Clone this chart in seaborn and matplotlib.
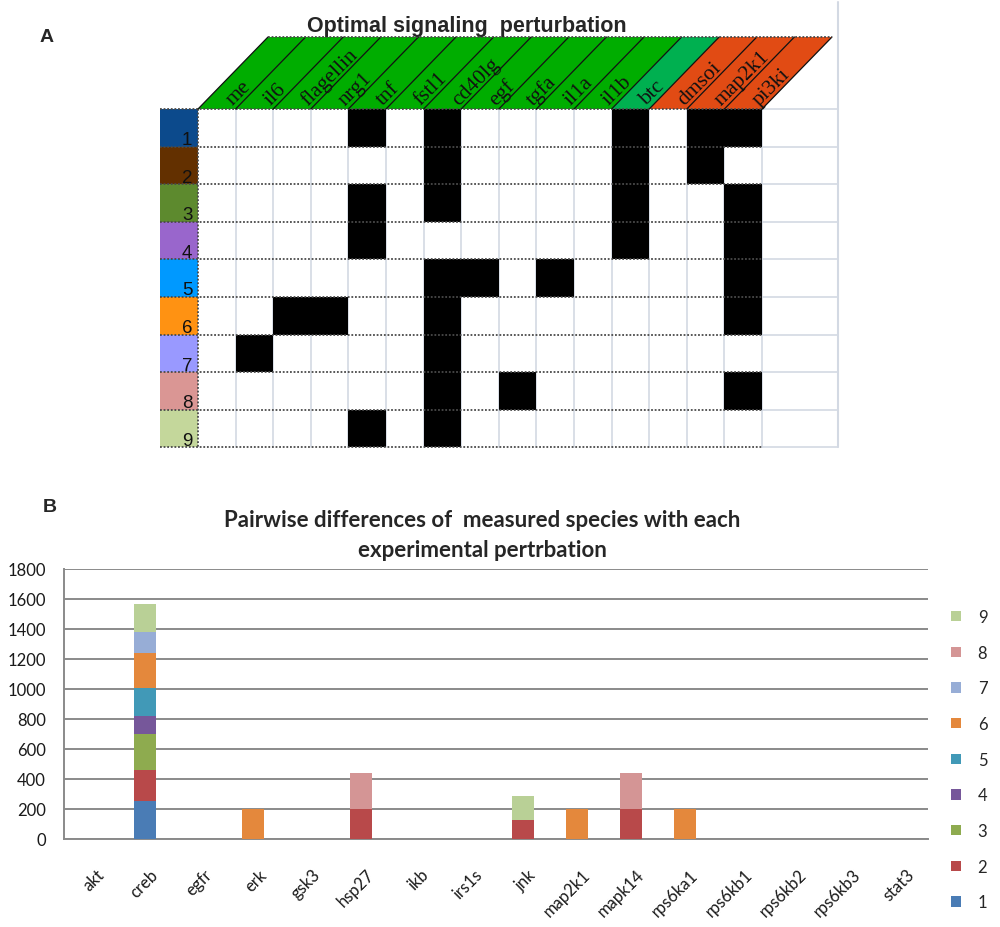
import numpy as np
import pandas as pd
import matplotlib
matplotlib.use("Agg")
import matplotlib.pyplot as plt
import seaborn as sns
from matplotlib.patches import Polygon, Rectangle, Patch
from matplotlib.colors import ListedColormap
from matplotlib.transforms import ScaledTranslation, blended_transform_factory

# ---------------- data: panel A ----------------
perturbations = ['me', 'il6', 'flagellin', 'nrg1', 'tnf', 'fstl1', 'cd40lg', 'egf',
                 'tgfa', 'il1a', 'il1b', 'btc', 'dmsoi', 'map2k1', 'pi3ki']
header_colors = ['#00ad00'] * 11 + ['#00b050'] + ['#e14b14'] * 3
solution_ids = ['1', '2', '3', '4', '5', '6', '7', '8', '9']
solution_colors = ['#0c4a8c', '#633000', '#5d8a2e', '#9966cc', '#0099ff',
                   '#ff9212', '#9999ff', '#da9694', '#c4d79b']
sol_1 = ['tnf', 'cd40lg', 'btc', 'map2k1', 'pi3ki']
sol_2 = ['cd40lg', 'btc', 'map2k1']
sol_3 = ['tnf', 'cd40lg', 'btc', 'pi3ki']
sol_4 = ['tnf', 'btc', 'pi3ki']
sol_5 = ['cd40lg', 'egf', 'il1a', 'pi3ki']
sol_6 = ['flagellin', 'nrg1', 'cd40lg', 'pi3ki']
sol_7 = ['il6', 'cd40lg']
sol_8 = ['cd40lg', 'tgfa', 'pi3ki']
sol_9 = ['tnf', 'cd40lg']
solutions = [sol_1, sol_2, sol_3, sol_4, sol_5, sol_6, sol_7, sol_8, sol_9]

# ---------------- data: panel B ----------------
species = ['akt', 'creb', 'egfr', 'erk', 'gsk3', 'hsp27', 'ikb', 'irs1s', 'jnk',
           'map2k1', 'mapk14', 'rps6ka1', 'rps6kb1', 'rps6kb2', 'rps6kb3', 'stat3']
pert_1 = [0, 252, 0, 0, 0, 0, 0, 0, 0, 0, 0, 0, 0, 0, 0, 0]
pert_2 = [0, 208, 0, 0, 0, 200, 0, 0, 130, 0, 200, 0, 0, 0, 0, 0]
pert_3 = [0, 242, 0, 0, 0, 0, 0, 0, 0, 0, 0, 0, 0, 0, 0, 0]
pert_4 = [0, 118, 0, 0, 0, 0, 0, 0, 0, 0, 0, 0, 0, 0, 0, 0]
pert_5 = [0, 190, 0, 0, 0, 0, 0, 0, 0, 0, 0, 0, 0, 0, 0, 0]
pert_6 = [0, 228, 0, 200, 0, 0, 0, 0, 0, 200, 0, 200, 0, 0, 0, 0]
pert_7 = [0, 140, 0, 0, 0, 0, 0, 0, 0, 0, 0, 0, 0, 0, 0, 0]
pert_8 = [0, 0, 0, 0, 0, 243, 0, 0, 0, 0, 243, 0, 0, 0, 0, 0]
pert_9 = [0, 188, 0, 0, 0, 0, 0, 0, 155, 0, 0, 0, 0, 0, 0, 0]
series_values = [pert_1, pert_2, pert_3, pert_4, pert_5, pert_6, pert_7, pert_8, pert_9]
series_labels = ['1', '2', '3', '4', '5', '6', '7', '8', '9']
series_colors = ['#4a7cb5', '#b8494a', '#8eab4f', '#76579a', '#4199b7',
                 '#e4883c', '#97add6', '#d49595', '#b9d096']
y_ticks = [0, 200, 400, 600, 800, 1000, 1200, 1400, 1600, 1800]

# ---------------- figure ----------------
sns.set_style('white')
plt.rcParams['font.family'] = ['Liberation Sans', 'DejaVu Sans']
W, H = 1000, 928
fig = plt.figure(figsize=(W / 100, H / 100), dpi=100)

# ===== Panel A =====
c = 37.6               # cell size (px)
gx, gy = 198, 110      # grid origin (px)
ax_l, ax_r, ax_t, ax_b = 150, 850, 0, 460
axA = fig.add_axes([ax_l / W, 1 - ax_b / H, (ax_r - ax_l) / W, (ax_b - ax_t) / H])
mat = np.array([[1 if p in sel else 0 for p in perturbations] for sel in solutions])
sns.heatmap(mat, ax=axA, cmap=ListedColormap([(1, 1, 1, 0), (0, 0, 0, 1)]),
            vmin=0, vmax=1, cbar=False, xticklabels=False, yticklabels=False, zorder=2)
axA.set_xlim((ax_l - gx) / c, (ax_r - gx) / c)
axA.set_ylim((ax_b - gy) / c, (ax_t - gy) / c)
axA.set_axis_off()

nr, nc = mat.shape
right_edge = (838 - gx) / c
light = '#d3d9e3'
for k in range(1, nc):
    axA.plot([k, k], [0, nr], color=light, lw=1.2, zorder=1)
axA.plot([nc, nc], [0, nr], color=light, lw=1.2, zorder=1)
axA.plot([right_edge, right_edge], [(3 - gy) / c, nr], color=light, lw=1.5, zorder=1)
for r in range(nr + 1):
    axA.plot([nc, right_edge], [r, r], color=light, lw=1.2, zorder=1)
for r, (sid, col) in enumerate(zip(solution_ids, solution_colors)):
    axA.add_patch(Rectangle((-1, r), 1, 1, facecolor=col, edgecolor='none', zorder=2))
    axA.text(-0.15, r + 0.93, sid, ha='right', va='baseline', fontsize=13.5,
             color='#111111', family='Liberation Sans', zorder=4)
for r in range(nr + 1):
    axA.plot([-1, nc], [r, r], color='#4a4a4a', lw=1.3, ls=(0, (1, 1)), zorder=3)
axA.plot([0, 0], [0, nr], color='#4a4a4a', lw=1.3, ls=(0, (1, 1)), zorder=3)

hh = 72 / c
ss = 70 / c
for i, (name, col) in enumerate(zip(perturbations, header_colors)):
    axA.add_patch(Polygon([(i, 0), (i + 1, 0), (i + 1 + ss, -hh), (i + ss, -hh)],
                          closed=True, facecolor=col, edgecolor='none', zorder=2))
for k in range(0, nc + 1):
    axA.plot([k, k + ss], [0, -hh], color='#101010', lw=0.9, zorder=3)
axA.plot([ss, nc + ss], [-hh, -hh], color='#4a4a4a', lw=1.3, ls=(0, (1, 1)), zorder=3)
for i, name in enumerate(perturbations):
    axA.text(i + 0.92, -0.1, name, rotation=45, rotation_mode='anchor',
             ha='left', va='baseline', fontsize=15.5, family='Liberation Serif',
             color='#111111', zorder=4)

fig.text(467 / W, 1 - 32 / H, 'Optimal signaling  perturbation', ha='center',
         va='baseline', fontsize=15.5, fontweight='bold', family='Liberation Sans')
fig.text(40 / W, 1 - 42 / H, 'A', ha='left', va='baseline', fontsize=14,
         fontweight='bold', family='Liberation Sans')

# ===== Panel B =====
axB = fig.add_axes([64 / W, 1 - 840 / H, 864 / W, 270 / H])
bottom = np.zeros(len(species))
for lab, vals, col in zip(series_labels, series_values, series_colors):
    vals = np.asarray(vals, dtype=float)
    sns.barplot(x=species, y=vals, order=species, color=col, saturation=1,
                width=0.39, errorbar=None, bottom=bottom, ax=axB, zorder=3,
                linewidth=0, edgecolor='none')
    bottom = bottom + vals

grey = '#8a8a8a'
axB.set_ylim(0, 1800)
axB.set_xlim(-0.5, len(species) - 0.5)
axB.set_yticks(y_ticks)
axB.yaxis.grid(True, color=grey, lw=1.4)
axB.set_axisbelow(True)
for sp in ['top', 'right']:
    axB.spines[sp].set_visible(False)
for sp in ['left', 'bottom']:
    axB.spines[sp].set_color(grey)
    axB.spines[sp].set_linewidth(1.4)
axB.set_xlabel('')
axB.set_ylabel('')
axB.tick_params(axis='y', length=5, width=1.2, color=grey, pad=8,
                labelsize=12, labelcolor='#1a1a1a')
for lbl in axB.get_yticklabels():
    lbl.set_family(['Lato', 'DejaVu Sans'])
axB.set_xticks(np.arange(-0.5, len(species), 1), minor=True)
axB.tick_params(axis='x', which='minor', length=6, width=1.2, color=grey, direction='out')
axB.set_xticks(range(len(species)))
axB.set_xticklabels([])
axB.tick_params(axis='x', which='major', length=0)
lab_tr = blended_transform_factory(axB.transData, axB.transAxes) + \
    ScaledTranslation(5 / 100, -27 / 100, fig.dpi_scale_trans)
for i, name in enumerate(species):
    axB.text(i, 0, name, transform=lab_tr, rotation=45, rotation_mode='anchor',
             ha='right', va='top', fontsize=12, color='#1a1a1a',
             family=['Lato', 'DejaVu Sans'])

handles = [Patch(facecolor=col, edgecolor='none') for col in series_colors][::-1]
fig.legend(handles, series_labels[::-1], loc='upper left',
           bbox_to_anchor=(951 / W, 1 - 610 / H), frameon=False,
           prop={'family': 'Lato', 'size': 12}, handlelength=0.6, handleheight=0.6,
           handletextpad=1.0, labelspacing=1.18, borderpad=0, borderaxespad=0)

fig.text(482 / W, 1 - 527 / H, 'Pairwise differences of  measured species with each',
         ha='center', va='baseline', fontsize=16, fontweight='bold', family='Lato')
fig.text(482 / W, 1 - 557 / H, 'experimental pertrbation',
         ha='center', va='baseline', fontsize=16, fontweight='bold', family='Lato')
fig.text(43 / W, 1 - 512 / H, 'B', ha='left', va='baseline', fontsize=14,
         fontweight='bold', family='Liberation Sans')

fig.savefig('out.png', dpi=100)
